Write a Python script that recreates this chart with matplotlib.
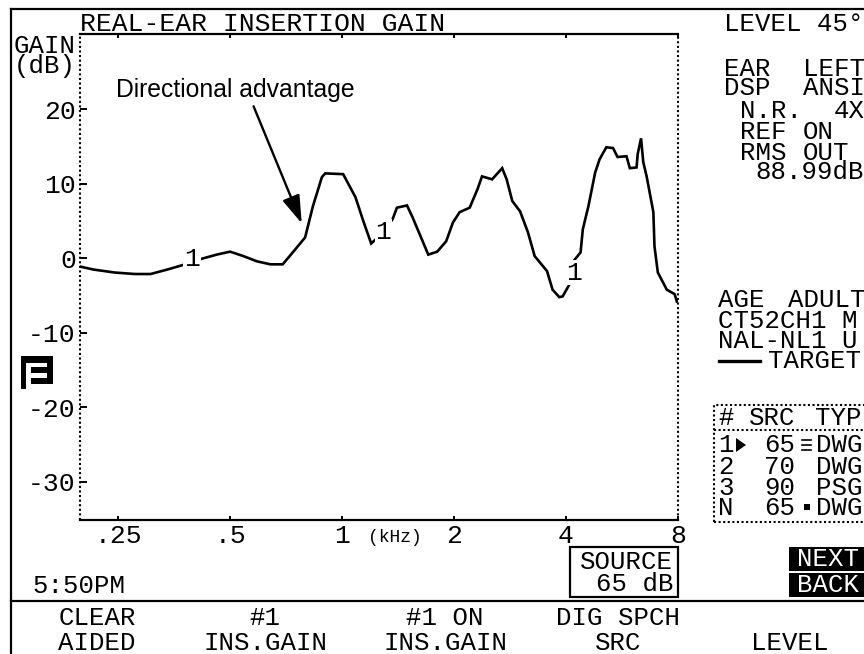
import matplotlib
matplotlib.use("Agg")
import matplotlib.pyplot as plt
from matplotlib.patches import Rectangle

W, H = 864, 654
MONO = "Liberation Mono"

# octaves relative to 1 kHz, and insertion gain in dB
octaves = [-2.34,-2.22,-2.03,-1.85,-1.71,-1.56,-1.40,-1.24,-1.12,-1.00,-0.88,-0.76,-0.64,-0.53,-0.44,-0.33,
           -0.26,-0.18,-0.15,0.01,0.12,0.19,0.26,0.32,0.45,0.49,0.58,0.63,0.70,0.77,0.85,0.93,0.99,1.05,1.14,
           1.21,1.25,1.34,1.43,1.47,1.52,1.59,1.66,1.72,1.83,1.88,1.94,1.97,2.03,2.06,2.13,2.15,2.20,2.26,
           2.30,2.36,2.42,2.46,2.54,2.57,2.63,2.64,2.67,2.69,2.72,2.78,2.79,2.82,2.90,2.97,2.99]
gain = [-1.1,-1.5,-1.9,-2.1,-2.1,-1.5,-0.8,0.0,0.5,0.9,0.3,-0.4,-0.8,-0.8,0.8,2.8,
        7.0,10.9,11.4,11.3,8.2,5.0,2.0,2.8,5.2,6.8,7.1,5.5,3.0,0.5,0.9,2.3,4.8,6.2,6.8,
        9.3,11.0,10.6,12.1,10.6,7.7,6.3,3.5,0.3,-1.7,-4.2,-5.2,-5.1,-3.5,-0.5,0.8,3.9,7.0,11.5,
        13.3,14.9,14.8,13.6,13.7,12.1,12.2,14.0,16.1,12.9,11.0,6.2,1.6,-1.9,-4.2,-4.8,-5.8]

x_tick_pos = [-2, -1, 0, 1, 2, 3]
x_tick_labels = [".25", ".5", "1", "2", "4", "8"]
y_ticks = [20, 10, 0, -10, -20, -30]
curve_labels = [(-1.34, -0.1), (0.37, 3.6), (2.07, -1.9)]

top_texts = [
    ("LEVEL 45°", 724, 24), ("EAR", 724, 69), ("LEFT", 803, 69), ("DSP", 724, 88), ("ANSI", 803, 88),
    ("N.R.", 740, 111), ("4X", 834, 111), ("REF", 740, 132), ("ON", 803, 132), ("RMS", 740, 153),
    ("OUT", 803, 153), ("88.99dB", 755, 172), ("AGE", 718, 300), ("ADULT", 788, 300), ("CT52CH1 M", 718, 321),
    ("NAL-NL1 U", 718, 341), ("TARGET", 768, 361), ("GAIN", 14, 46), ("(dB)", 14, 66),
    ("5:50PM", 32, 586),
]
table_rows = [("#", "SRC", "TYP", 418), ("1", "65", "DWG", 445), ("2", "70", "DWG", 467),
              ("3", "90", "PSG", 488), ("N", "65", "DWG", 508)]
soft_keys = [(97, "CLEAR", "AIDED"), (265, "#1", "INS.GAIN"), (445, "#1 ON", "INS.GAIN"),
             (618, "DIG SPCH", "SRC"), (790, "", "LEVEL")]

fig = plt.figure(figsize=(W / 100, H / 100), dpi=100, facecolor="white")
ax = fig.add_axes([80 / W, 1 - 520 / H, (678 - 80) / W, (520 - 34) / H])
ax.set_xlim(-2.34, 3.0)
ax.set_ylim(-35.1, 30.1)
ax.plot(octaves, gain, color="black", lw=1.9, solid_joinstyle="miter")

for (ox, g) in curve_labels:
    ax.text(ox, g, "1", family=MONO, fontsize=19, ha="center", va="center", color="black",
            bbox=dict(fc="white", ec="none", pad=0.5), zorder=4)

for s in ("left", "right"):
    ax.spines[s].set_linestyle((0, (1, 1.2)))
    ax.spines[s].set_linewidth(1.5)
    ax.spines[s].set_capstyle("butt")
for s in ("top", "bottom"):
    ax.spines[s].set_linewidth(1.6)
ax.set_xticks(x_tick_pos, x_tick_labels, family=MONO, fontsize=19)
ax.set_yticks(y_ticks, [str(v) for v in y_ticks], family=MONO, fontsize=19)
ax.tick_params(axis="x", direction="in", top=True, length=3, width=1.4, pad=3)
ax.tick_params(axis="y", direction="in", length=5, width=1.4, pad=3)
ax.patch.set_alpha(0)

ax.annotate("", xy=(-0.36, 4.7), xytext=(-0.79, 20.4),
            arrowprops=dict(arrowstyle="-|>,head_length=1.7,head_width=0.55", color="black", lw=1.7,
                            shrinkA=0, shrinkB=0))
ax.text(-2.02, 22.6, "Directional advantage", family="Liberation Sans", fontsize=17.8, va="center", ha="left")


def t(s, x, y, ha="left", size=18.5, color="black", **kw):
    fig.text(x / W, 1 - y / H, s, family=MONO, fontsize=size, ha=ha, va="center", color=color, **kw)


def hline(x0, x1, y, lw=1.6):
    fig.add_artist(plt.Line2D([x0 / W, x1 / W], [1 - y / H, 1 - y / H], color="black", lw=lw))


def vline(x, y0, y1, lw=1.6):
    fig.add_artist(plt.Line2D([x / W, x / W], [1 - y0 / H, 1 - y1 / H], color="black", lw=lw))


def rect(x0, y0, x1, y1, **kw):
    fig.add_artist(Rectangle((x0 / W, 1 - y1 / H), (x1 - x0) / W, (y1 - y0) / H,
                             transform=fig.transFigure, **kw))


hline(11, W, 9)
vline(11, 9, H)
hline(11, W, 601)

t("REAL-EAR INSERTION GAIN", 80, 24, size=19)
for s, x, y in top_texts:
    t(s, x, y)
t("(kHz)", 368, 537, size=13)
hline(719, 760, 361, lw=2.4)

rect(570, 547, 678, 597, fc="white", ec="black", lw=1.6)
t("SOURCE", 673, 562, ha="right")
t("65 dB", 673, 584, ha="right")

rect(714, 405, 880, 522, fc="none", ec="black", lw=1.5, ls=(0, (1, 1.2)))
fig.add_artist(plt.Line2D([714 / W, 1], [1 - 430 / H, 1 - 430 / H], color="black", lw=1.5, ls=(0, (1, 1.2))))
for a, b, c, y in table_rows:
    t(a, 718, y)
    t(b, 795, y, ha="right")
    t(c, 862, y, ha="right")
fig.add_artist(plt.Polygon([[736 / W, 1 - 438 / H], [736 / W, 1 - 452 / H], [746 / W, 1 - 445 / H]],
                           closed=True, fc="black", ec="none", transform=fig.transFigure))
for yy in (440, 445, 450):
    hline(802, 811, yy, lw=1.2)
rect(804, 504, 810, 510, fc="black", ec="none")

rect(789, 547, 880, 571, fc="black", ec="none")
rect(789, 573, 880, 597, fc="black", ec="none")
t("NEXT", 797, 559, color="white")
t("BACK", 797, 585, color="white")

# status icon
rect(21, 356, 53, 363, fc="black", ec="none")
rect(21, 356, 26, 389, fc="black", ec="none")
rect(47, 356, 53, 384, fc="black", ec="none")
rect(31, 367, 53, 373, fc="black", ec="none")
rect(31, 378, 53, 384, fc="black", ec="none")

for x, a, b in soft_keys:
    if a:
        t(a, x, 618, ha="center")
    t(b, x, 643, ha="center")

fig.savefig("out.png", dpi=100)
